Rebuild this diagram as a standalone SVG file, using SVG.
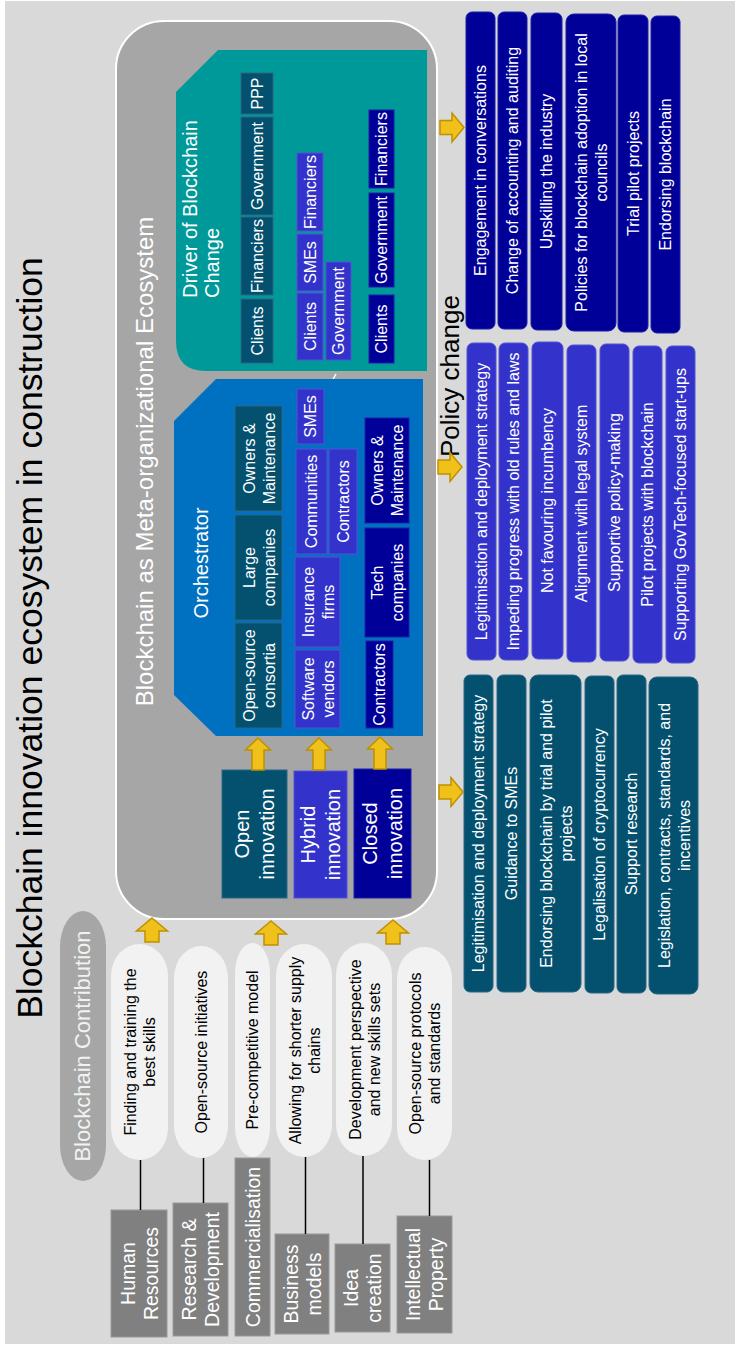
<svg xmlns="http://www.w3.org/2000/svg" width="735" height="1346" viewBox="0 0 735 1346">
<style>
text{font-family:"Liberation Sans",Arial,Helvetica,sans-serif;dominant-baseline:central;text-anchor:middle}
.w{fill:#ffffff}
.k{fill:#000000}
.f16{font-size:16px}
.f20{font-size:20px}
.f195{font-size:19.5px}
.dt{fill:#03506f;stroke:#2a6784;stroke-width:1}
.mb{fill:#3333cc;stroke:#5252d6;stroke-width:1}
.nv{fill:#000099;stroke:#1f1fa8;stroke-width:1}
.cat{fill:#808080;stroke:#999999;stroke-width:1}
.pill{fill:#f2f2f2}
.arr{fill:#f0c11a;stroke:#bf9000;stroke-width:1.5;stroke-linejoin:miter}
.ln{stroke:#000000;stroke-width:1.5;fill:none}
</style>
<defs>
<path id="upA" d="M0,0 L15.5,13 L7,13 L7,24 L-7,24 L-7,13 L-15.5,13 Z"/>
<path id="upB" d="M0,0 L12.5,12 L6,12 L6,32 L-6,32 L-6,12 L-12.5,12 Z"/>
<path id="rtA" d="M0,0 L-12,-14.5 L-12,-7 L-24,-7 L-24,7 L-12,7 L-12,14.5 Z"/>
</defs>
<rect x="0" y="0" width="735" height="1346" fill="#ffffff"/>
<rect x="5" y="1" width="730" height="1343" fill="#d9d9d9"/>

<g id="title"><text class="k" style="font-size:35.5px" transform="translate(30,638) rotate(-90)">Blockchain innovation ecosystem in construction</text></g>

<g id="contribution-label"><rect x="60" y="911" width="46" height="270" rx="23" ry="36" fill="#a6a6a6"/><text fill="#f2f2f2" style="font-size:22px" transform="translate(82,1046) rotate(-90)">Blockchain Contribution</text></g>

<!-- pills -->
<g id="pill-skills"><rect class="pill" x="111" y="944" width="57" height="216" rx="28.5" ry="32"/><text class="k f16" transform="translate(139.5,1052) rotate(-90)"><tspan x="0" y="-9.5">Finding and training the</tspan><tspan x="0" y="9.5">best skills</tspan></text></g>
<g id="pill-opensource"><rect class="pill" x="174" y="946" width="54" height="212" rx="27" ry="32"/><text class="k f16" transform="translate(201,1052) rotate(-90)">Open-source initiatives</text></g>
<g id="pill-precomp"><rect class="pill" x="235" y="943" width="35" height="214" rx="17.5" ry="30"/><text class="k f16" transform="translate(252.5,1050) rotate(-90)">Pre-competitive model</text></g>
<g id="pill-supply"><rect class="pill" x="276" y="944" width="56" height="213" rx="28" ry="32"/><text class="k f16" transform="translate(304,1050.5) rotate(-90)"><tspan x="0" y="-9.5">Allowing for shorter supply</tspan><tspan x="0" y="9.5">chains</tspan></text></g>
<g id="pill-dev"><rect class="pill" x="336" y="943" width="56" height="213" rx="28" ry="32"/><text class="k f16" transform="translate(364,1049.5) rotate(-90)"><tspan x="0" y="-9.5">Development perspective</tspan><tspan x="0" y="9.5">and new skills sets</tspan></text></g>
<g id="pill-protocols"><rect class="pill" x="397" y="947" width="55" height="213" rx="27.5" ry="32"/><text class="k f16" transform="translate(424.5,1053.5) rotate(-90)"><tspan x="0" y="-9.5">Open-source protocols</tspan><tspan x="0" y="9.5">and standards</tspan></text></g>

<!-- category boxes -->
<g id="cat-hr"><rect class="cat" x="111" y="1210" width="56" height="127"/><text class="w f195" transform="translate(139,1273.5) rotate(-90)"><tspan x="0" y="-11.5">Human</tspan><tspan x="0" y="11.5">Resources</tspan></text></g>
<g id="cat-rd"><rect class="cat" x="173" y="1203" width="55" height="133"/><text class="w f195" transform="translate(200.5,1269.5) rotate(-90)"><tspan x="0" y="-11.5">Research &amp;</tspan><tspan x="0" y="11.5">Development</tspan></text></g>
<g id="cat-comm"><rect class="cat" x="235" y="1158" width="35" height="178"/><text class="w f195" transform="translate(252.5,1247) rotate(-90)">Commercialisation</text></g>
<g id="cat-bm"><rect class="cat" x="275" y="1234" width="54" height="100"/><text class="w f195" transform="translate(302,1284) rotate(-90)"><tspan x="0" y="-11.5">Business</tspan><tspan x="0" y="11.5">models</tspan></text></g>
<g id="cat-idea"><rect class="cat" x="335" y="1244" width="55" height="88"/><text class="w f195" transform="translate(362.5,1288) rotate(-90)"><tspan x="0" y="-11.5">Idea</tspan><tspan x="0" y="11.5">creation</tspan></text></g>
<g id="cat-ip"><rect class="cat" x="397" y="1216" width="55" height="117"/><text class="w f195" transform="translate(424.5,1274.5) rotate(-90)"><tspan x="0" y="-11.5">Intellectual</tspan><tspan x="0" y="11.5">Property</tspan></text></g>

<!-- ecosystem container -->
<g id="ecosystem">
<rect x="116" y="21" width="321" height="898" rx="48" ry="48" fill="#a6a6a6" stroke="#ffffff" stroke-width="2"/>
<text class="w" style="font-size:24px" transform="translate(144,461.5) rotate(-90)">Blockchain as Meta-organizational Ecosystem</text>
<line x1="332" y1="381" x2="336" y2="374" stroke="#ffffff" stroke-width="1.5"/>
</g>

<g id="driver">
<path d="M218,50 L427,50 L427,371 L206,371 Q176,371 176,341 L176,92 Z" fill="#009999"/>
<text class="w f20" style="text-anchor:start" transform="translate(189.5,298) rotate(-90)"><tspan x="0" y="0">Driver of Blockchain</tspan><tspan x="0" y="22.5">Change</tspan></text>
</g>
<g id="d-clients1"><rect class="dt" x="241" y="299" width="32" height="64"/><text class="w f16" transform="translate(257,331) rotate(-90)">Clients</text></g>
<g id="d-financiers1"><rect class="dt" x="241" y="217" width="32" height="78"/><text class="w f16" transform="translate(257,256) rotate(-90)">Financiers</text></g>
<g id="d-government1"><rect class="dt" x="241" y="117" width="32" height="98"/><text class="w f16" transform="translate(257,166) rotate(-90)">Government</text></g>
<g id="d-ppp"><rect class="dt" x="241" y="73" width="32" height="41"/><text class="w f16" transform="translate(257,93.5) rotate(-90)">PPP</text></g>
<g id="d-clients2"><rect class="mb" x="297" y="293" width="26" height="67"/><text class="w f16" transform="translate(310,326.5) rotate(-90)">Clients</text></g>
<g id="d-smes2"><rect class="mb" x="297" y="234" width="26" height="57"/><text class="w f16" transform="translate(310,262.5) rotate(-90)">SMEs</text></g>
<g id="d-financiers2"><rect class="mb" x="297" y="153" width="26" height="78"/><text class="w f16" transform="translate(310,192) rotate(-90)">Financiers</text></g>
<g id="d-government2"><rect class="mb" x="326" y="262" width="25" height="98"/><text class="w f16" transform="translate(338.5,311) rotate(-90)">Government</text></g>
<g id="d-clients3"><rect class="nv" x="369" y="295" width="25" height="68"/><text class="w f16" transform="translate(381.5,329) rotate(-90)">Clients</text></g>
<g id="d-government3"><rect class="nv" x="369" y="193" width="25" height="94"/><text class="w f16" transform="translate(381.5,240) rotate(-90)">Government</text></g>
<g id="d-financiers3"><rect class="nv" x="369" y="110" width="25" height="78"/><text class="w f16" transform="translate(381.5,149) rotate(-90)">Financiers</text></g>

<g id="orchestrator">
<path d="M216,379 L423,379 L423,736 L216,736 L174,695 L174,421 Z" fill="#0070c0"/>
<text class="w f20" transform="translate(200.5,563) rotate(-90)">Orchestrator</text>
</g>
<g id="o-owners1"><rect class="dt" x="235" y="406" width="47" height="105"/><text class="w f16" transform="translate(258.5,458.5) rotate(-90)"><tspan x="0" y="-10">Owners &amp;</tspan><tspan x="0" y="10">Maintenance</tspan></text></g>
<g id="o-large"><rect class="dt" x="235" y="515" width="47" height="105"/><text class="w f16" transform="translate(258.5,567.5) rotate(-90)"><tspan x="0" y="-10">Large</tspan><tspan x="0" y="10">companies</tspan></text></g>
<g id="o-consortia"><rect class="dt" x="235" y="623" width="47" height="105"/><text class="w f16" transform="translate(258.5,675.5) rotate(-90)"><tspan x="0" y="-10">Open-source</tspan><tspan x="0" y="10">consortia</tspan></text></g>
<g id="o-smes"><rect class="mb" x="297" y="389" width="27" height="55"/><text class="w f16" transform="translate(310.5,416.5) rotate(-90)">SMEs</text></g>
<g id="o-communities"><rect class="mb" x="296" y="449" width="31" height="105"/><text class="w f16" transform="translate(311.5,501.5) rotate(-90)">Communities</text></g>
<g id="o-contractors2"><rect class="mb" x="329" y="449" width="28" height="105"/><text class="w f16" transform="translate(343,501.5) rotate(-90)">Contractors</text></g>
<g id="o-insurance"><rect class="mb" x="295" y="557" width="45" height="90"/><text class="w f16" transform="translate(317.5,602) rotate(-90)"><tspan x="0" y="-10">Insurance</tspan><tspan x="0" y="10">firms</tspan></text></g>
<g id="o-software"><rect class="mb" x="295" y="650" width="45" height="78"/><text class="w f16" transform="translate(317.5,689) rotate(-90)"><tspan x="0" y="-10">Software</tspan><tspan x="0" y="10">vendors</tspan></text></g>
<g id="o-owners3"><rect class="nv" x="365" y="418" width="44" height="105"/><text class="w f16" transform="translate(387,470.5) rotate(-90)"><tspan x="0" y="-10">Owners &amp;</tspan><tspan x="0" y="10">Maintenance</tspan></text></g>
<g id="o-tech"><rect class="nv" x="365" y="528" width="44" height="109"/><text class="w f16" transform="translate(387,582.5) rotate(-90)"><tspan x="0" y="-10">Tech</tspan><tspan x="0" y="10">companies</tspan></text></g>
<g id="o-contractors3"><rect class="nv" x="366" y="641" width="27" height="87"/><text class="w f16" transform="translate(379.5,684.5) rotate(-90)">Contractors</text></g>

<g id="open-innovation"><rect class="dt" x="222" y="770" width="65" height="128"/><text class="w f20" transform="translate(254.5,834) rotate(-90)"><tspan x="0" y="-12.5">Open</tspan><tspan x="0" y="12.5">innovation</tspan></text></g>
<g id="hybrid-innovation"><rect class="mb" x="294" y="771" width="53" height="127"/><text class="w f20" transform="translate(320.5,834.5) rotate(-90)"><tspan x="0" y="-12.5">Hybrid</tspan><tspan x="0" y="12.5">innovation</tspan></text></g>
<g id="closed-innovation"><rect class="nv" x="354" y="769" width="57" height="129"/><text class="w f20" transform="translate(382.5,833.5) rotate(-90)"><tspan x="0" y="-12.5">Closed</tspan><tspan x="0" y="12.5">innovation</tspan></text></g>

<g id="policy-label"><text class="k" style="font-size:26px;text-anchor:start" transform="translate(449.5,457) rotate(-90)">Policy change</text></g>

<!-- right columns: closed (navy) -->
<g id="c-engagement"><rect class="nv" x="466" y="12" width="29" height="317" rx="6"/><text class="w f16" transform="translate(480.5,170.5) rotate(-90)">Engagement in conversations</text></g>
<g id="c-accounting"><rect class="nv" x="498" y="12" width="29" height="317" rx="6"/><text class="w f16" transform="translate(512.5,170.5) rotate(-90)">Change of accounting and auditing</text></g>
<g id="c-upskilling"><rect class="nv" x="531" y="13" width="31" height="317" rx="6"/><text class="w f16" transform="translate(546.5,171.5) rotate(-90)">Upskilling the industry</text></g>
<g id="c-policies"><rect class="nv" x="566" y="14" width="50" height="317" rx="8"/><text class="w f16" transform="translate(591,172.5) rotate(-90)"><tspan x="0" y="-10">Policies for blockchain adoption in local</tspan><tspan x="0" y="10">councils</tspan></text></g>
<g id="c-trial"><rect class="nv" x="618" y="15" width="30" height="317" rx="6"/><text class="w f16" transform="translate(633,173.5) rotate(-90)">Trial pilot projects</text></g>
<g id="c-endorsing"><rect class="nv" x="651" y="16" width="29" height="317" rx="6"/><text class="w f16" transform="translate(665.5,174.5) rotate(-90)">Endorsing blockchain</text></g>

<!-- right columns: hybrid (blue) -->
<g id="h-legit"><rect class="mb" x="467" y="343" width="29" height="317" rx="6"/><text class="w f16" transform="translate(481.5,501.5) rotate(-90)">Legitimisation and deployment strategy</text></g>
<g id="h-impeding"><rect class="mb" x="499" y="343" width="29" height="317" rx="6"/><text class="w f16" transform="translate(513.5,501.5) rotate(-90)">Impeding progress with old rules and laws</text></g>
<g id="h-incumbency"><rect class="mb" x="532" y="342" width="31" height="317" rx="6"/><text class="w f16" transform="translate(547.5,500.5) rotate(-90)">Not favouring incumbency</text></g>
<g id="h-alignment"><rect class="mb" x="567" y="345" width="29" height="317" rx="6"/><text class="w f16" transform="translate(581.5,503.5) rotate(-90)">Alignment with legal system</text></g>
<g id="h-supportive"><rect class="mb" x="600" y="344" width="29" height="317" rx="6"/><text class="w f16" transform="translate(614.5,502.5) rotate(-90)">Supportive policy-making</text></g>
<g id="h-pilot"><rect class="mb" x="633" y="346" width="29" height="317" rx="6"/><text class="w f16" transform="translate(647.5,504.5) rotate(-90)">Pilot projects with blockchain</text></g>
<g id="h-govtech"><rect class="mb" x="666" y="346" width="29" height="317" rx="6"/><text class="w f16" transform="translate(680.5,504.5) rotate(-90)">Supporting GovTech-focused start-ups</text></g>

<!-- right columns: open (dark teal) -->
<g id="p-legit"><rect class="dt" x="464" y="675" width="29" height="317" rx="6"/><text class="w f16" transform="translate(478.5,833.5) rotate(-90)">Legitimisation and deployment strategy</text></g>
<g id="p-guidance"><rect class="dt" x="497" y="675" width="29" height="317" rx="6"/><text class="w f16" transform="translate(511.5,833.5) rotate(-90)">Guidance to SMEs</text></g>
<g id="p-endorsing"><rect class="dt" x="530" y="675" width="51" height="317" rx="8"/><text class="w f16" transform="translate(555.5,833.5) rotate(-90)"><tspan x="0" y="-10">Endorsing blockchain by trial and pilot</tspan><tspan x="0" y="10">projects</tspan></text></g>
<g id="p-crypto"><rect class="dt" x="585" y="676" width="29" height="317" rx="6"/><text class="w f16" transform="translate(599.5,834.5) rotate(-90)">Legalisation of cryptocurrency</text></g>
<g id="p-research"><rect class="dt" x="617" y="675" width="29" height="318" rx="6"/><text class="w f16" transform="translate(631.5,834) rotate(-90)">Support research</text></g>
<g id="p-legislation"><rect class="dt" x="649" y="677" width="49" height="317" rx="8"/><text class="w f16" transform="translate(673.5,835.5) rotate(-90)"><tspan x="0" y="-10">Legislation, contracts, standards, and</tspan><tspan x="0" y="10">incentives</tspan></text></g>

<g id="connectors">
<line class="ln" x1="140.5" y1="1160" x2="140.5" y2="1210"/>
<line class="ln" x1="203.5" y1="1158" x2="203.5" y2="1203"/>
<line class="ln" x1="305.5" y1="1157" x2="305.5" y2="1234"/>
<line class="ln" x1="363" y1="1156" x2="363" y2="1244"/>
<line class="ln" x1="429.5" y1="1160" x2="429.5" y2="1216"/>
<use href="#upA" class="arr" x="152" y="918"/>
<use href="#upA" class="arr" x="271" y="921"/>
<use href="#upA" class="arr" x="393" y="920"/>
<use href="#upB" class="arr" x="258" y="738"/>
<use href="#upB" class="arr" x="319" y="738"/>
<use href="#upB" class="arr" x="380" y="737"/>
<use href="#rtA" class="arr" x="464" y="127.5"/>
<use href="#rtA" class="arr" x="462" y="467"/>
<use href="#rtA" class="arr" x="463" y="792"/>
</g>
</svg>
